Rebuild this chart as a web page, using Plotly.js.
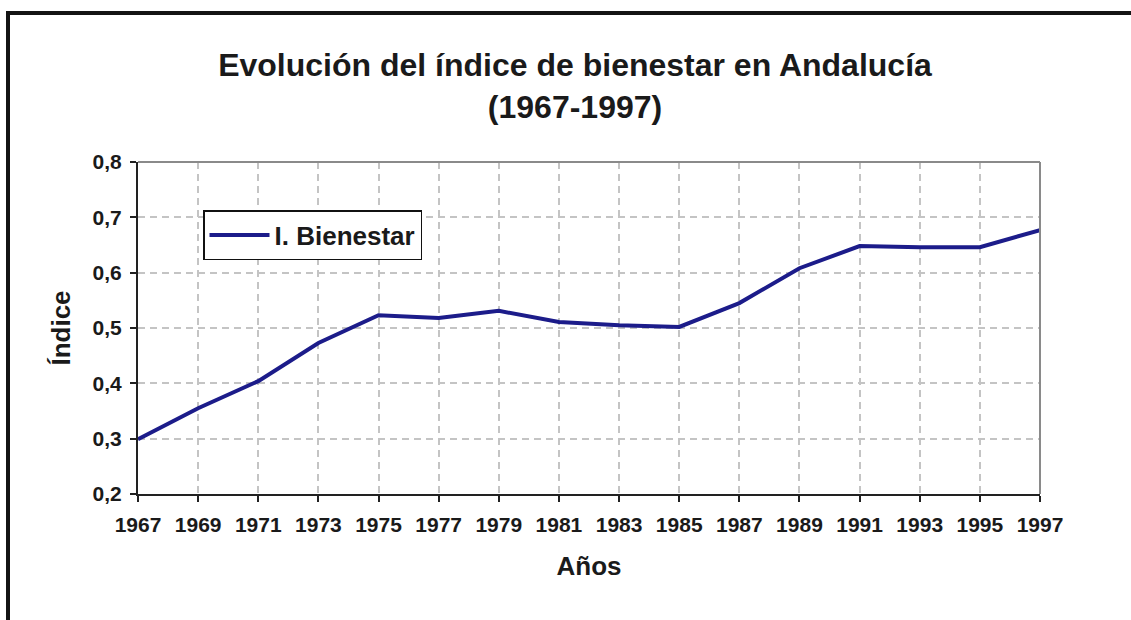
<!DOCTYPE html>
<html><head><meta charset="utf-8">
<script src="https://cdn.plot.ly/plotly-3.0.1.min.js"></script>
<style>
html,body{margin:0;padding:0;background:#fff;}
#wrap{position:relative;width:1131px;height:620px;overflow:hidden;}
#chart{width:1131px;height:620px;}
#frame{position:absolute;left:6px;top:11px;width:1200px;height:700px;border-top:4px solid #141414;border-left:4px solid #141414;pointer-events:none;}
</style></head>
<body>
<div id="wrap"><div id="chart"></div><div id="frame"></div></div>
<script>
const years = [1967,1969,1971,1973,1975,1977,1979,1981,1983,1985,1987,1989,1991,1993,1995,1997];
const bienestar = [0.299,0.355,0.404,0.473,0.523,0.518,0.531,0.511,0.505,0.502,0.545,0.608,0.648,0.646,0.646,0.677];
const yTicks = [0.2,0.3,0.4,0.5,0.6,0.7,0.8];
const yTickLabels = ['0,2','0,3','0,4','0,5','0,6','0,7','0,8'];

const font = 'Liberation Sans, Arial, sans-serif';
const txt = '#1a1a1a';
Plotly.newPlot('chart', [{
  x: years, y: bienestar, type: 'scatter', mode: 'lines',
  name: '<b>I. Bienestar</b>',
  line: {color: '#1c1c8a', width: 4}
}], {
  width: 1131, height: 620,
  margin: {l: 138, r: 91, t: 162, b: 126},
  paper_bgcolor: '#fff', plot_bgcolor: '#fff',
  font: {family: font, color: txt},
  title: {text: '<b>Evolución del índice de bienestar en Andalucía<br>(1967-1997)</b>',
          font: {size: 32, family: font, color: txt},
          x: 575/1131, xref: 'container', xanchor: 'center', y: 1-76/620, yref: 'container', yanchor: 'middle'},
  xaxis: {
    range: [1967, 1997], tickvals: years, ticktext: years.map(v => '<b>' + v + '</b>'),
    tickfont: {size: 21, family: font, color: txt},
    showline: true, linecolor: '#222', linewidth: 2, mirror: false,
    ticks: 'outside', ticklen: 6, tickwidth: 2, tickcolor: '#222',
    ticklabelstandoff: 5,
    showgrid: true, gridcolor: '#c4c4c4', griddash: '7px,5px', gridwidth: 2,
    zeroline: false,
    title: {text: '<b>Años</b>', font: {size: 26, family: font, color: txt}, standoff: 22}
  },
  yaxis: {
    range: [0.2, 0.8], tickvals: yTicks, ticktext: yTickLabels.map(s => '<b>' + s + '</b>'),
    tickfont: {size: 21, family: font, color: txt},
    showline: true, linecolor: '#222', linewidth: 2,
    ticks: 'outside', ticklen: 6, tickwidth: 2, tickcolor: '#222',
    ticklabelstandoff: 4,
    showgrid: true, gridcolor: '#c4c4c4', griddash: '7px,5px', gridwidth: 2,
    zeroline: false,
    title: {text: '<b>Índice</b>', font: {size: 26, family: font, color: txt}, standoff: 14}
  },
  shapes: [
    {type: 'line', xref: 'paper', yref: 'paper', x0: 0, x1: 1, y0: 1, y1: 1, line: {color: '#8a8a8a', width: 2}},
    {type: 'line', xref: 'paper', yref: 'paper', x0: 1, x1: 1, y0: 0, y1: 1, line: {color: '#8a8a8a', width: 2}}
  ],
  showlegend: true,
  legend: {x: (203-138)/902, y: 1-(210-162)/332, xanchor: 'left', yanchor: 'top',
           bgcolor: '#fff', bordercolor: '#111', borderwidth: 1.5, itemwidth: 60,
           font: {size: 26, family: font, color: txt}}
}, {staticPlot: true});
</script>
</body></html>
